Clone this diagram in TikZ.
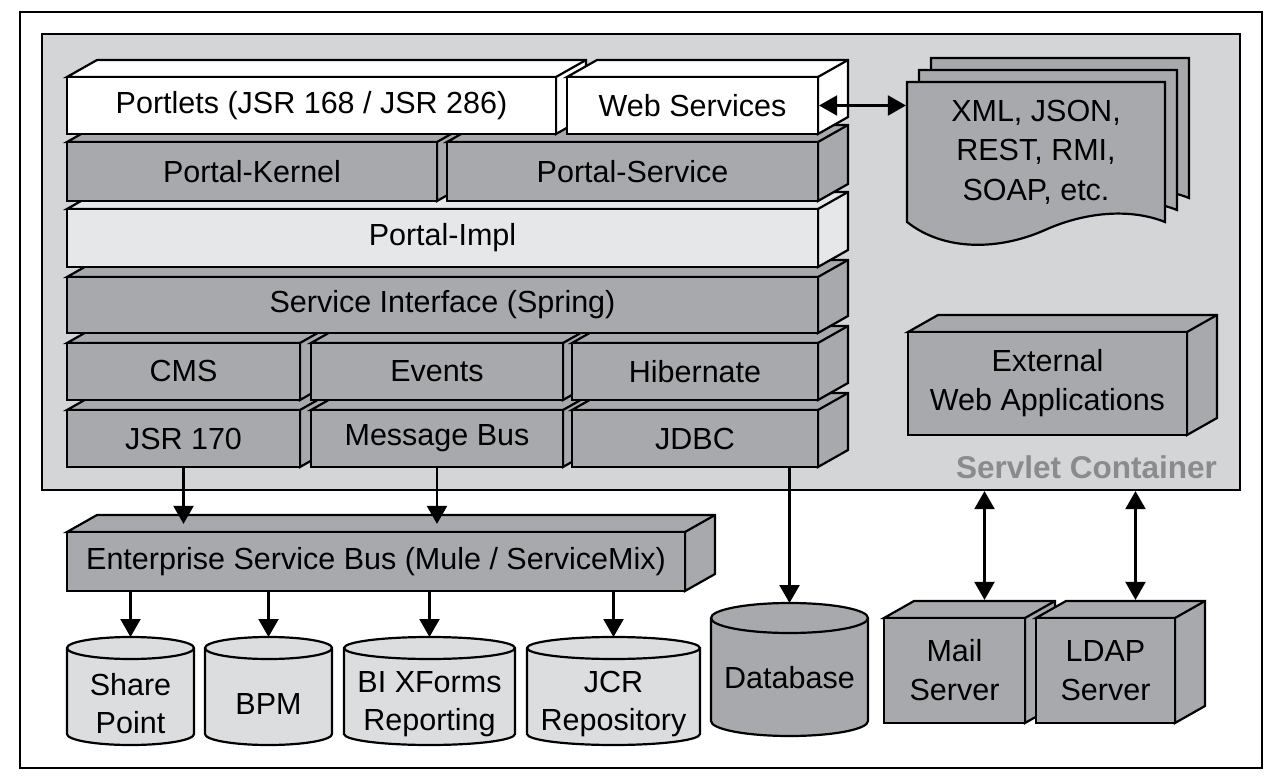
\documentclass[tikz,border=0pt]{standalone}
\usepackage{fontspec}
\setmainfont{Liberation Sans}
\usetikzlibrary{arrows.meta}
\definecolor{cgray}{RGB}{212,213,215}
\definecolor{bgray}{RGB}{167,169,172}
\definecolor{lgray}{RGB}{230,231,232}
\definecolor{cylg}{RGB}{220,221,223}
\definecolor{sctext}{RGB}{138,139,141}
\newcommand\dpx{30}
\newcommand\dpy{17}
% name, x1, y1, x2, y2, fill, text  (pixel coordinates, y downwards)
\newcommand\mkblock[7]{%
  \pgfmathsetmacro\bw{#4-#2}%
  \pgfmathsetmacro\bh{#5-#3}%
  \filldraw[fill=#6] (#2,-#3) -- ++(\dpx,\dpy) -- ({#4+\dpx},{-#3+\dpy}) -- ({#4+\dpx},{-#5+\dpy}) -- (#4,-#5) -- (#4,-#3) -- cycle;
  \draw (#4,-#3) -- ++(\dpx,\dpy);
  \node[front, fill=#6, minimum width=\bw pt, minimum height=\bh pt] (#1) at ({(#2+#4)/2},{-(#3+#5)/2}) {#7};
}
% name, x1, x2, ytop-centre, ybottom-centre, ry, fill, text, text y
\newcommand\mkcyl[9]{%
  \pgfmathsetmacro\crx{(#3-#2)/2}%
  \filldraw[fill=#7] (#2,-#4) -- (#2,-#5) arc[start angle=180,end angle=360,x radius=\crx,y radius=#6] -- (#3,-#4) arc[start angle=0,end angle=180,x radius=\crx,y radius=#6] -- cycle;
  \draw (#2,-#4) arc[start angle=180,end angle=360,x radius=\crx,y radius=#6];
  \node[lbl] (#1) at ({(#2+#3)/2},-#9) {#8};
  \coordinate (#1t) at ({(#2+#3)/2},{-(#4-#6)});
}
\tikzset{
  front/.style={draw, rectangle, inner sep=0pt, align=center, font=\fontsize{30.5}{39}\selectfont},
  lbl/.style={inner sep=0pt, align=center, font=\fontsize{30.5}{38}\selectfont},
  arr/.style={-{Triangle[length=18pt,width=20pt]}},
  darr/.style={{Triangle[length=18pt,width=20pt]}-{Triangle[length=18pt,width=20pt]}},
}
\begin{document}
\begin{tikzpicture}[x=1pt,y=1pt,line width=2.2pt]
\useasboundingbox (0,0) rectangle (1274,-783);
\fill[white] (0,0) rectangle (1274,-783);
% outer frame
\node[draw, line width=2pt, minimum width=1242pt, minimum height=756pt, inner sep=0pt] (frame) at (641,-390) {};
% servlet container
\node[draw, fill=cgray, minimum width=1198pt, minimum height=456pt, inner sep=0pt] (container) at (641,-262) {};
\node[anchor=east, inner sep=0pt, text=sctext, font=\bfseries\fontsize{31.5}{36}\selectfont] (sclabel) at (1218,-467) {Servlet Container};

% stack, bottom row first
\mkblock{jsr}{67}{410}{300}{467}{bgray}{JSR 170}
\mkblock{msgbus}{311}{410}{563}{467}{bgray}{Message Bus}
\mkblock{jdbc}{572}{410}{818}{467}{bgray}{JDBC}
\mkblock{cms}{67}{343}{300}{400}{bgray}{CMS}
\mkblock{events}{311}{343}{563}{400}{bgray}{Events}
\mkblock{hib}{572}{343}{818}{400}{bgray}{Hibernate}
\mkblock{si}{67}{277}{818}{333}{bgray}{Service Interface (Spring)}
\mkblock{impl}{67}{209}{818}{267}{lgray}{Portal-Impl}
\mkblock{kernel}{67}{142}{437}{201}{bgray}{Portal-Kernel}
\mkblock{pservice}{447}{142}{818}{201}{bgray}{Portal-Service}
\mkblock{portlets}{67}{77}{556}{134}{white}{Portlets (JSR 168 / JSR 286)}
\mkblock{ws}{567}{77}{818}{134}{white}{Web Services}

% document stack
\foreach \s in {24,12,0}{
  \filldraw[fill=bgray] ({907+\s},{-82+\s}) -- ({1165+\s},{-82+\s}) -- ({1165+\s},{-222+\s})
    .. controls ({1130+\s},{-208+\s}) and ({1085+\s},{-212+\s}) .. ({1045+\s},{-230+\s})
    .. controls ({1000+\s},{-250+\s}) and ({945+\s},{-252+\s}) .. ({907+\s},{-222+\s}) -- cycle;
}
\node[lbl, minimum width=258pt, minimum height=140pt, font=\fontsize{30.5}{39.5}\selectfont] (doc) at (1036,-152) {XML, JSON,\\REST, RMI,\\SOAP, etc.};

% external web applications
\mkblock{ext}{908}{332}{1187}{435}{bgray}{External\\Web Applications}

% enterprise service bus
\mkblock{esb}{67}{532}{685}{591}{bgray}{Enterprise Service Bus (Mule / ServiceMix)}

% repositories
\mkcyl{sp}{67}{194}{648}{734}{11}{cylg}{Share\\Point}{704}
\mkcyl{bpm}{205}{332}{648}{734}{11}{cylg}{BPM}{704}
\mkcyl{bix}{344}{515}{648}{734}{11}{cylg}{BI XForms\\Reporting}{704}
\mkcyl{jcr}{527}{700}{648}{734}{11}{cylg}{JCR\\Repository}{704}
\mkcyl{db}{711}{868}{618}{721}{15}{bgray}{Database}{678}

% servers
\mkblock{mail}{884}{618}{1025}{723}{bgray}{Mail\\Server}
\mkblock{ldap}{1036}{618}{1175}{723}{bgray}{LDAP\\Server}
\coordinate (mailb) at ([shift={(30,17)}]mail.north);
\coordinate (ldapb) at ([shift={(30,17)}]ldap.north);

% connectors
\draw[arr] (jsr.south) -- ([yshift=7pt]jsr.south |- esb.north);
\draw[arr] (msgbus.south) -- ([yshift=7pt]msgbus.south |- esb.north);
\draw[arr] (jdbc.south -| dbt) -- (dbt);
\draw[arr] (esb.south -| spt) -- (spt);
\draw[arr] (esb.south -| bpmt) -- (bpmt);
\draw[arr] (esb.south -| bixt) -- (bixt);
\draw[arr] (esb.south -| jcrt) -- (jcrt);
\draw[darr] (ws.east) -- (ws.east -| doc.west);
\draw[darr] (container.south -| mailb) -- (mailb);
\draw[darr] (container.south -| ldapb) -- (ldapb);
\end{tikzpicture}
\end{document}
